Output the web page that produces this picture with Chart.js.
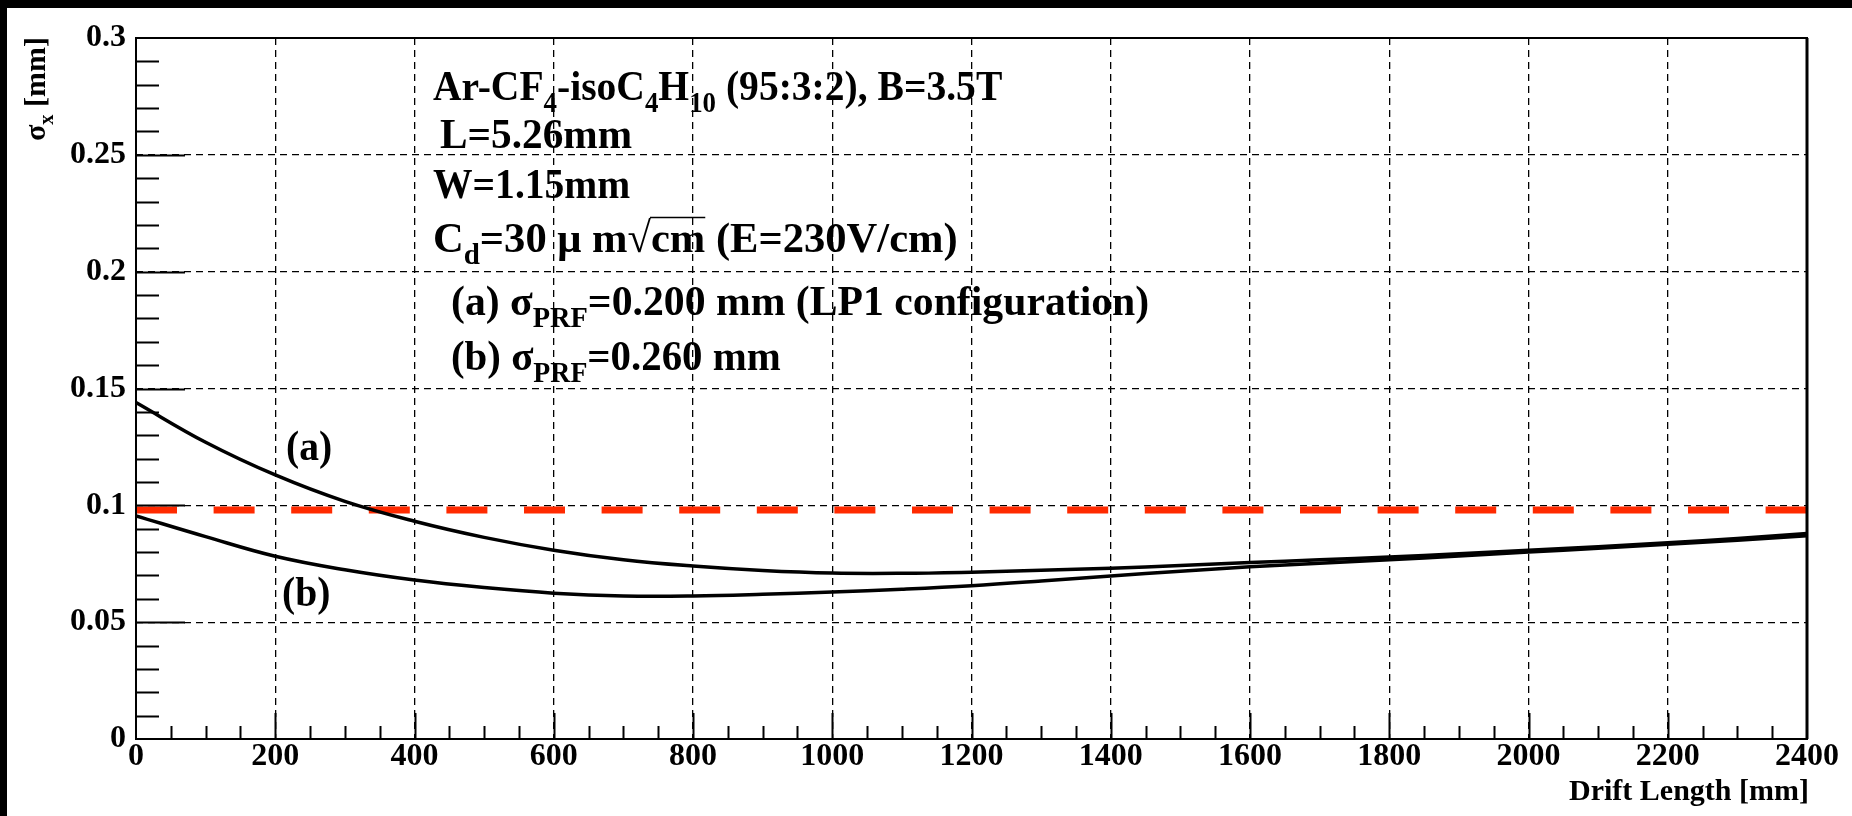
<!DOCTYPE html>
<html>
<head>
<meta charset="utf-8">
<script src="https://cdn.jsdelivr.net/npm/chart.js@4.4.0/dist/chart.umd.min.js"></script>
<style>
    html, body { margin: 0; padding: 0; background: #000; }
    #wrap { width: 1852px; height: 816px; }
</style>
</head>
<body>
<div id="wrap"><canvas id="sigmaChart"></canvas></div>
<script>
// drift length [mm] and resolution [mm]
var driftLength = [0, 100, 200, 300, 400, 500, 600, 700, 800, 900, 1000, 1100, 1200,
                   1300, 1400, 1500, 1600, 1700, 1800, 1900, 2000, 2100, 2200, 2300, 2400];
// (a) sigma_PRF = 0.200 mm
var sigmaA = [0.1440, 0.1270, 0.1130, 0.1017, 0.0932, 0.0863, 0.0808, 0.0767, 0.0740, 0.0721,
              0.0710, 0.0709, 0.0714, 0.0722, 0.0731, 0.0742, 0.0755, 0.0767, 0.0779, 0.0793,
              0.0808, 0.0823, 0.0840, 0.0858, 0.0879];
// (b) sigma_PRF = 0.260 mm
var sigmaB = [0.0955, 0.0866, 0.0782, 0.0724, 0.0680, 0.0648, 0.0624, 0.0612, 0.0612, 0.0619,
              0.0629, 0.0641, 0.0656, 0.0676, 0.0698, 0.0718, 0.0737, 0.0752, 0.0767, 0.0783,
              0.0800, 0.0816, 0.0833, 0.0851, 0.0870];
// 100 um goal line
var goalX = [0, 2400];
var goalY = [0.098, 0.098];

var xTicks = [0, 200, 400, 600, 800, 1000, 1200, 1400, 1600, 1800, 2000, 2200, 2400];
var xTickLabels = ['0', '200', '400', '600', '800', '1000', '1200', '1400', '1600', '1800', '2000', '2200', '2400'];
var yTicks = [0, 0.05, 0.1, 0.15, 0.2, 0.25, 0.3];
var yTickLabels = ['0', '0.05', '0.1', '0.15', '0.2', '0.25', '0.3'];

var SERIF = '"Liberation Serif", "Times New Roman", serif';

function toPoints(xs, ys) {
    var pts = [];
    for (var i = 0; i < xs.length; i++) {
        pts.push({x: xs[i], y: ys[i]});
    }
    return pts;
}

// draws text pieces, ['txt'] normal, ['txt','sub'] subscript, ['txt','sqrt'] under a root
// sx squeezes the text sideways like the original print
function drawRich(ctx, x0, y0, parts, size, sx) {
    sx = sx || 1;
    ctx.save();
    ctx.translate(x0, y0);
    ctx.scale(sx, 1);
    var x = 0;
    parts.forEach(function (p) {
        var kind = p[1] || '';
        var fs = kind === 'sub' ? size * 0.68 : size;
        var dy = kind === 'sub' ? size * 0.28 : 0;
        ctx.font = 'bold ' + fs + 'px ' + SERIF;
        if (kind === 'sqrt') {
            ctx.fillText('\u221A', x, 0);
            x += ctx.measureText('\u221A').width;
            var w = ctx.measureText(p[0]).width;
            ctx.fillText(p[0], x, 0);
            ctx.beginPath();
            ctx.lineWidth = 1.5;
            ctx.moveTo(x - 1, -size * 0.8);
            ctx.lineTo(x + w, -size * 0.8);
            ctx.stroke();
            x += w;
        } else {
            ctx.fillText(p[0], x, dy);
            x += ctx.measureText(p[0]).width;
        }
    });
    ctx.restore();
    return x0 + x * sx;
}

function richWidth(ctx, parts, size) {
    var w = 0;
    parts.forEach(function (p) {
        var kind = p[1] || '';
        ctx.font = 'bold ' + (kind === 'sub' ? size * 0.68 : size) + 'px ' + SERIF;
        w += ctx.measureText(p[0]).width;
        if (kind === 'sqrt') w += ctx.measureText('\u221A').width;
    });
    return w;
}

// text block, offsets from the top left corner of the frame
var notes = [
    {dx: 297, dy: 62, sx: 0.92, parts: [['Ar-CF'], ['4', 'sub'], ['-isoC'], ['4', 'sub'], ['H'], ['10', 'sub'], [' (95:3:2), B=3.5T']]},
    {dx: 304, dy: 110, sx: 0.96, parts: [['L=5.26mm']]},
    {dx: 297, dy: 160, sx: 0.92, parts: [['W=1.15mm']]},
    {dx: 297, dy: 214, sx: 0.99, parts: [['C'], ['d', 'sub'], ['=30 \u03BC m'], ['cm', 'sqrt'], [' (E=230V/cm)']]},
    {dx: 315, dy: 277, sx: 0.97, parts: [['(a) \u03C3'], ['PRF', 'sub'], ['=0.200 mm (LP1 configuration)']]},
    {dx: 315, dy: 332, sx: 0.95, parts: [['(b) \u03C3'], ['PRF', 'sub'], ['=0.260 mm']]},
    {dx: 150, dy: 422, sx: 0.92, parts: [['(a)']]},
    {dx: 146, dy: 568, sx: 0.92, parts: [['(b)']]}
];

var rootStyle = {
    id: 'rootStyle',
    beforeDraw: function (chart) {
        var ctx = chart.ctx;
        ctx.save();
        ctx.fillStyle = '#000';
        ctx.fillRect(0, 0, chart.width, chart.height);
        ctx.fillStyle = '#fff';
        ctx.fillRect(7, 8, chart.width - 7, chart.height - 8);
        ctx.restore();
    },
    afterDraw: function (chart) {
        var ctx = chart.ctx;
        var area = chart.chartArea;
        var xs = chart.scales.x;
        var ys = chart.scales.y;
        ctx.save();
        ctx.strokeStyle = '#000';
        ctx.fillStyle = '#000';
        ctx.lineWidth = 2;

        // ticks on the left axis
        ctx.beginPath();
        for (var i = 1; i < 30; i++) {
            var py = Math.round(ys.getPixelForValue(i / 100)) + 0.5;
            var len = (i % 5 === 0) ? 49 : 23;
            ctx.moveTo(area.left, py);
            ctx.lineTo(area.left + len, py);
        }
        // ticks on the bottom axis
        for (var j = 1; j < 48; j++) {
            var px = Math.round(xs.getPixelForValue(j * 50)) + 0.5;
            var l2 = (j % 4 === 0) ? 26 : 13;
            ctx.moveTo(px, area.bottom);
            ctx.lineTo(px, area.bottom - l2);
        }
        ctx.stroke();

        // frame
        ctx.lineWidth = 2;
        ctx.strokeRect(area.left, area.top, area.right - area.left, area.bottom - area.top);
        ctx.lineWidth = 3;
        ctx.beginPath();
        ctx.moveTo(area.right, area.top);
        ctx.lineTo(area.right, area.bottom);
        ctx.stroke();

        // text block and curve labels
        ctx.textAlign = 'left';
        ctx.textBaseline = 'alphabetic';
        notes.forEach(function (n) {
            drawRich(ctx, area.left + n.dx, area.top + n.dy, n.parts, 43, n.sx);
        });

        // x title, right aligned
        ctx.font = 'bold 30px ' + SERIF;
        ctx.textAlign = 'right';
        ctx.fillText('Drift Length [mm]', area.right + 2, 800);

        // y title, rotated, ending at the top of the axis
        var yTitle = [['\u03C3'], ['x', 'sub'], [' [mm]']];
        ctx.textAlign = 'left';
        ctx.translate(45, area.top - 1);
        ctx.rotate(-Math.PI / 2);
        drawRich(ctx, -richWidth(ctx, yTitle, 30), 0, yTitle, 30, 1);
        ctx.restore();
    }
};

var tickFont = {family: SERIF, size: 32, weight: 'bold', lineHeight: 1.1};

var chartData = {
    datasets: [{
        label: '(a)',
        data: toPoints(driftLength, sigmaA),
        borderColor: '#000',
        borderWidth: 3.5,
        pointRadius: 0,
        tension: 0.4,
        fill: false
    }, {
        label: '(b)',
        data: toPoints(driftLength, sigmaB),
        borderColor: '#000',
        borderWidth: 3.5,
        pointRadius: 0,
        tension: 0.4,
        fill: false
    }, {
        label: 'goal',
        data: toPoints(goalX, goalY),
        borderColor: '#ff2a00',
        borderWidth: 7,
        borderDash: [41, 36.6],
        borderCapStyle: 'butt',
        pointRadius: 0,
        fill: false
    }]
};

new Chart(document.getElementById('sigmaChart'), {
    type: 'line',
    data: chartData,
    options: {
        responsive: true,
        maintainAspectRatio: false,
        animation: false,
        layout: {padding: {top: 38, right: 45, left: 0, bottom: 0}},
        plugins: {legend: {display: false}, tooltip: {enabled: false}},
        scales: {
            x: {
                type: 'linear',
                min: 0,
                max: 2400,
                afterBuildTicks: function (s) {
                    s.ticks = xTicks.map(function (v) { return {value: v}; });
                },
                afterFit: function (s) { s.height = 77; },
                grid: {color: '#000', lineWidth: 1.3, drawTicks: false},
                border: {display: false, dash: [7, 5]},
                ticks: {
                    color: '#000',
                    font: tickFont,
                    padding: 0,
                    maxRotation: 0,
                    autoSkip: false,
                    callback: function (v, i) { return xTickLabels[i]; }
                }
            },
            y: {
                type: 'linear',
                min: 0,
                max: 0.3,
                afterBuildTicks: function (s) {
                    s.ticks = yTicks.map(function (v) { return {value: v}; });
                },
                afterFit: function (s) { s.width = 136; },
                grid: {color: '#000', lineWidth: 1.3, drawTicks: false},
                border: {display: false, dash: [7, 5]},
                ticks: {
                    color: '#000',
                    font: tickFont,
                    padding: 10,
                    autoSkip: false,
                    callback: function (v, i) { return yTickLabels[i]; }
                }
            }
        }
    },
    plugins: [rootStyle]
});
</script>
</body>
</html>
